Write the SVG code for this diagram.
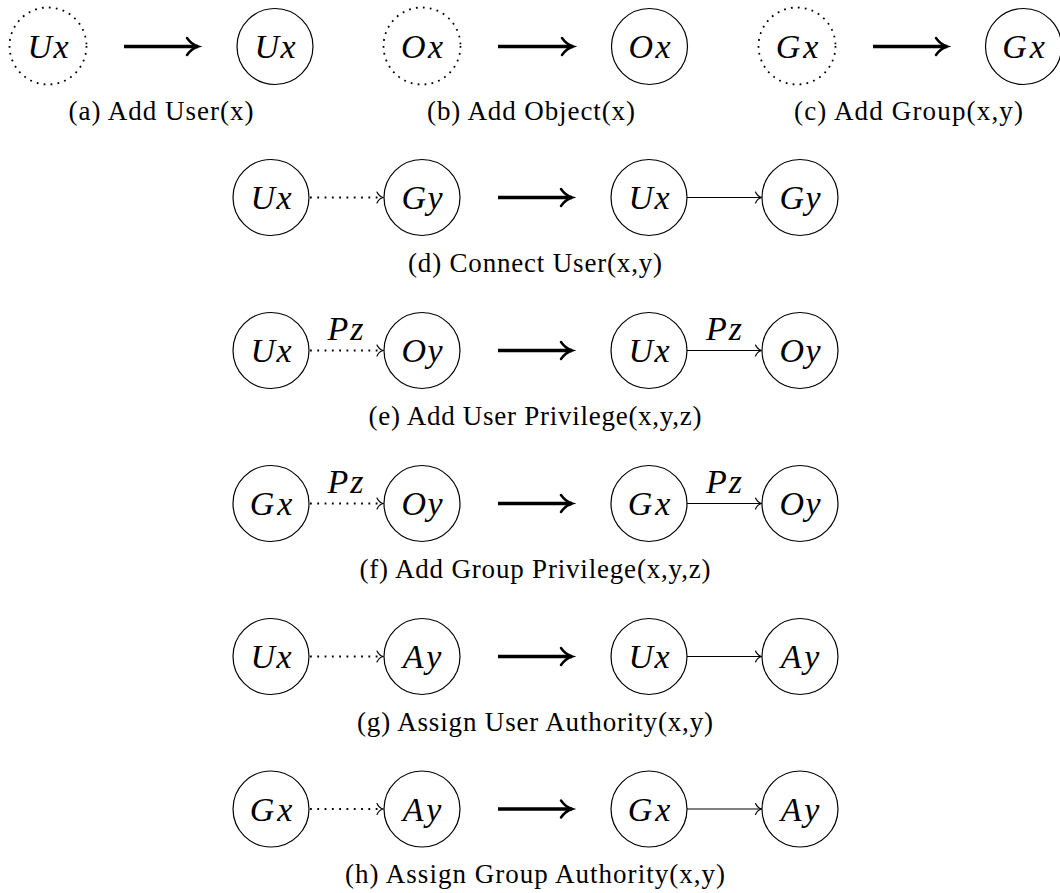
<svg xmlns="http://www.w3.org/2000/svg" width="1060" height="893" viewBox="0 0 1060 893">
<style>
.n{fill:#fff;stroke:#000;stroke-width:1.2}
.d{fill:#fff;stroke:#000;stroke-width:1.8;stroke-dasharray:1.8 5.2}
.m{font-family:'Liberation Serif','DejaVu Serif','Noto Serif','Times New Roman',serif;font-style:italic;font-size:34px;text-anchor:middle;fill:#000}
.c{font-family:'Liberation Serif','DejaVu Serif','Noto Serif','Times New Roman',serif;font-size:27px;text-anchor:middle;fill:#000}
.big{stroke:#000;stroke-width:3.3;fill:none}
.thin{stroke:#000;stroke-width:1.2;fill:none}
.dot{stroke:#000;stroke-width:1.8;fill:none;stroke-dasharray:1.8 5.5}
</style>
<defs>
<marker id="hb" markerUnits="userSpaceOnUse" markerWidth="16" markerHeight="20" viewBox="-13 -10 16 20" refX="0" refY="0" orient="auto" overflow="visible">
<path d="M -11,-8.5 C -7.5,-3.5 -3,-0.9 0,0 C -3,0.9 -7.5,3.5 -11,8.5" fill="none" stroke="#000" stroke-width="2.5" stroke-linecap="round"/>
</marker>
<marker id="ht" markerUnits="userSpaceOnUse" markerWidth="10" markerHeight="14" viewBox="-8 -7 10 14" refX="0" refY="0" orient="auto" overflow="visible">
<path d="M -6,-5.5 C -4.5,-2.2 -2,-0.6 0,0 C -2,0.6 -4.5,2.2 -6,5.5" fill="none" stroke="#000" stroke-width="1.2" stroke-linecap="round"/>
</marker>
</defs>
<rect width="1060" height="893" fill="#fff"/>

<g id="connectors">
<path class="big" d="M124,46.5 H198" marker-end="url(#hb)"/>
<path class="big" d="M498,46.5 H573" marker-end="url(#hb)"/>
<path class="big" d="M873,46.5 H947" marker-end="url(#hb)"/>
<path class="big" d="M498,197.5 H572" marker-end="url(#hb)"/>
<path class="big" d="M498,350.5 H572" marker-end="url(#hb)"/>
<path class="big" d="M498,503.5 H572" marker-end="url(#hb)"/>
<path class="big" d="M498,656.5 H572" marker-end="url(#hb)"/>
<path class="big" d="M498,809 H572" marker-end="url(#hb)"/>
<path class="dot" d="M310,197.5 H383" marker-end="url(#ht)"/>
<path class="thin" d="M687,197.5 H761.5" marker-end="url(#ht)"/>
<path class="dot" d="M310,350.5 H383" marker-end="url(#ht)"/>
<path class="thin" d="M687,350.5 H761.5" marker-end="url(#ht)"/>
<path class="dot" d="M310,503.5 H383" marker-end="url(#ht)"/>
<path class="thin" d="M687,503.5 H761.5" marker-end="url(#ht)"/>
<path class="dot" d="M310,656.5 H383" marker-end="url(#ht)"/>
<path class="thin" d="M687,656.5 H761.5" marker-end="url(#ht)"/>
<path class="dot" d="M310,809 H383" marker-end="url(#ht)"/>
<path class="thin" d="M687,809 H761.5" marker-end="url(#ht)"/>
<text class="m" x="345.5" y="340" textLength="36">Pz</text>
<text class="m" x="724" y="340" textLength="36">Pz</text>
<text class="m" x="345.5" y="493" textLength="36">Pz</text>
<text class="m" x="724" y="493" textLength="36">Pz</text>
</g>

<g id="a-ux-new"><circle class="d" cx="48" cy="46" r="38.5"/><text class="m" x="48" y="57.5" textLength="41">Ux</text></g>
<g id="a-ux"><circle class="n" cx="275" cy="46.5" r="38"/><text class="m" x="275" y="58" textLength="41">Ux</text></g>
<g id="b-ox-new"><circle class="d" cx="422" cy="46" r="38.5"/><text class="m" x="422" y="57.5" textLength="42">Ox</text></g>
<g id="b-ox"><circle class="n" cx="649.5" cy="46.5" r="38"/><text class="m" x="649.5" y="58" textLength="42">Ox</text></g>
<g id="c-gx-new"><circle class="d" cx="797" cy="46" r="38.5"/><text class="m" x="797" y="57.5" textLength="42.5">Gx</text></g>
<g id="c-gx"><circle class="n" cx="1023.5" cy="46.5" r="38"/><text class="m" x="1023.5" y="58" textLength="42.5">Gx</text></g>

<g id="d-ux-1"><circle class="n" cx="271" cy="197.5" r="38"/><text class="m" x="271" y="209" textLength="41">Ux</text></g>
<g id="d-gy-1"><circle class="n" cx="422" cy="197.5" r="38"/><text class="m" x="422" y="209" textLength="41">Gy</text></g>
<g id="d-ux-2"><circle class="n" cx="649" cy="197.5" r="38"/><text class="m" x="649" y="209" textLength="41">Ux</text></g>
<g id="d-gy-2"><circle class="n" cx="800" cy="197.5" r="38"/><text class="m" x="800" y="209" textLength="41">Gy</text></g>

<g id="e-ux-1"><circle class="n" cx="271" cy="350.5" r="38"/><text class="m" x="271" y="362" textLength="41">Ux</text></g>
<g id="e-oy-1"><circle class="n" cx="422" cy="350.5" r="38"/><text class="m" x="422" y="362" textLength="41">Oy</text></g>
<g id="e-ux-2"><circle class="n" cx="649" cy="350.5" r="38"/><text class="m" x="649" y="362" textLength="41">Ux</text></g>
<g id="e-oy-2"><circle class="n" cx="800" cy="350.5" r="38"/><text class="m" x="800" y="362" textLength="41">Oy</text></g>

<g id="f-gx-1"><circle class="n" cx="271" cy="503.5" r="38"/><text class="m" x="271" y="515" textLength="42.5">Gx</text></g>
<g id="f-oy-1"><circle class="n" cx="422" cy="503.5" r="38"/><text class="m" x="422" y="515" textLength="41">Oy</text></g>
<g id="f-gx-2"><circle class="n" cx="649" cy="503.5" r="38"/><text class="m" x="649" y="515" textLength="42.5">Gx</text></g>
<g id="f-oy-2"><circle class="n" cx="800" cy="503.5" r="38"/><text class="m" x="800" y="515" textLength="41">Oy</text></g>

<g id="g-ux-1"><circle class="n" cx="271" cy="656.5" r="38"/><text class="m" x="271" y="668" textLength="41">Ux</text></g>
<g id="g-ay-1"><circle class="n" cx="422" cy="656.5" r="38"/><text class="m" x="422" y="668" textLength="38.5">Ay</text></g>
<g id="g-ux-2"><circle class="n" cx="649" cy="656.5" r="38"/><text class="m" x="649" y="668" textLength="41">Ux</text></g>
<g id="g-ay-2"><circle class="n" cx="800" cy="656.5" r="38"/><text class="m" x="800" y="668" textLength="38.5">Ay</text></g>

<g id="h-gx-1"><circle class="n" cx="271" cy="809" r="38"/><text class="m" x="271" y="820.5" textLength="42.5">Gx</text></g>
<g id="h-ay-1"><circle class="n" cx="422" cy="809" r="38"/><text class="m" x="422" y="820.5" textLength="38.5">Ay</text></g>
<g id="h-gx-2"><circle class="n" cx="649" cy="809" r="38"/><text class="m" x="649" y="820.5" textLength="42.5">Gx</text></g>
<g id="h-ay-2"><circle class="n" cx="800" cy="809" r="38"/><text class="m" x="800" y="820.5" textLength="38.5">Ay</text></g>

<g id="captions">
<text class="c" x="161" y="120" textLength="185">(a) Add User(x)</text>
<text class="c" x="531" y="120" textLength="208">(b) Add Object(x)</text>
<text class="c" x="908.5" y="120" textLength="229">(c) Add Group(x,y)</text>
<text class="c" x="535" y="271.5" textLength="254">(d) Connect User(x,y)</text>
<text class="c" x="535" y="424.5" textLength="333">(e) Add User Privilege(x,y,z)</text>
<text class="c" x="535" y="577.5" textLength="351">(f) Add Group Privilege(x,y,z)</text>
<text class="c" x="535" y="730.5" textLength="356">(g) Assign User Authority(x,y)</text>
<text class="c" x="535" y="883" textLength="380">(h) Assign Group Authority(x,y)</text>
</g>
</svg>
